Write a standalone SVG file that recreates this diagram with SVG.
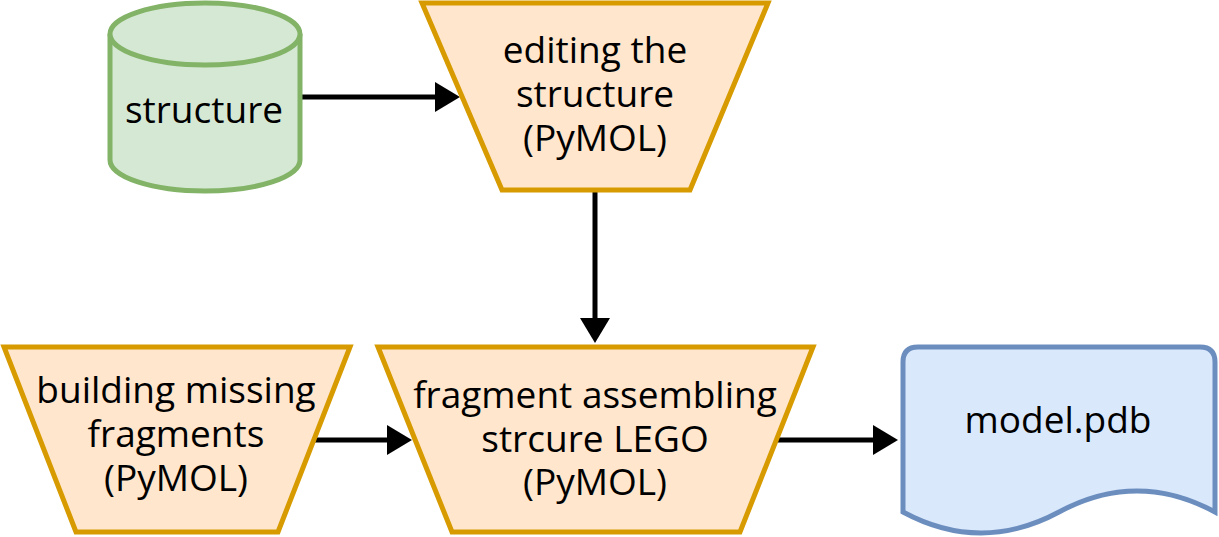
<svg xmlns="http://www.w3.org/2000/svg" width="1219" height="537" viewBox="0 0 1219 537">
<style>
.proc{fill:#ffe6cc;stroke:#d79b00;stroke-width:5;stroke-linejoin:miter}
.db{fill:#d5e8d4;stroke:#82b366;stroke-width:5}
.doc{fill:#dae8fc;stroke:#6c8ebf;stroke-width:5}
.lbl{font-family:"Open Sans","Noto Sans",sans-serif;font-size:37px;fill:#000;text-anchor:middle}
.edge{stroke:#000;stroke-width:5;fill:none}
</style>
<defs>
<marker id="ah" markerWidth="6" markerHeight="7" refX="0" refY="3" orient="auto" markerUnits="strokeWidth" overflow="visible">
<path d="M0,0 L5,3 L0,6 Z" fill="#000"/>
</marker>
</defs>
<rect width="1219" height="537" fill="#fff"/>
<g id="connectors">
<line class="edge" x1="300" y1="97" x2="435" y2="97" marker-end="url(#ah)"/>
<line class="edge" x1="595" y1="190" x2="595" y2="318" marker-end="url(#ah)"/>
<line class="edge" x1="315" y1="440" x2="387" y2="440" marker-end="url(#ah)"/>
<line class="edge" x1="777" y1="440" x2="873" y2="440" marker-end="url(#ah)"/>
</g>
<g id="structure">
<path class="db" d="M110,34 A95,31 0 0 1 300,34 L300,160 A95,31 0 0 1 110,160 Z"/>
<path class="db" d="M110,34 A95,31 0 0 0 300,34" fill="none"/>
<text class="lbl" x="204" y="123">structure</text>
</g>
<g id="editing">
<path class="proc" d="M422,3 L768,3 L690,190 L502,190 Z"/>
<text class="lbl" x="595" y="63">editing the</text>
<text class="lbl" x="595" y="107">structure</text>
<text class="lbl" x="595" y="151">(PyMOL)</text>
</g>
<g id="building">
<path class="proc" d="M4,347 L350,347 L278,532 L76,532 Z"/>
<text class="lbl" x="176" y="403">building missing</text>
<text class="lbl" x="176" y="447">fragments</text>
<text class="lbl" x="176" y="491">(PyMOL)</text>
</g>
<g id="assembling">
<path class="proc" d="M378,347 L813,347 L740,532 L452,532 Z"/>
<text class="lbl" x="595" y="408">fragment assembling</text>
<text class="lbl" x="595" y="452">strcure LEGO</text>
<text class="lbl" x="595" y="495">(PyMOL)</text>
</g>
<g id="model">
<path class="doc" d="M918,347 L1200,347 Q1215,347 1215,362 L1215,512 Q1137,470 1059,512 Q981,554 903,512 L903,362 Q903,347 918,347 Z"/>
<text class="lbl" x="1058" y="433">model.pdb</text>
</g>
</svg>
